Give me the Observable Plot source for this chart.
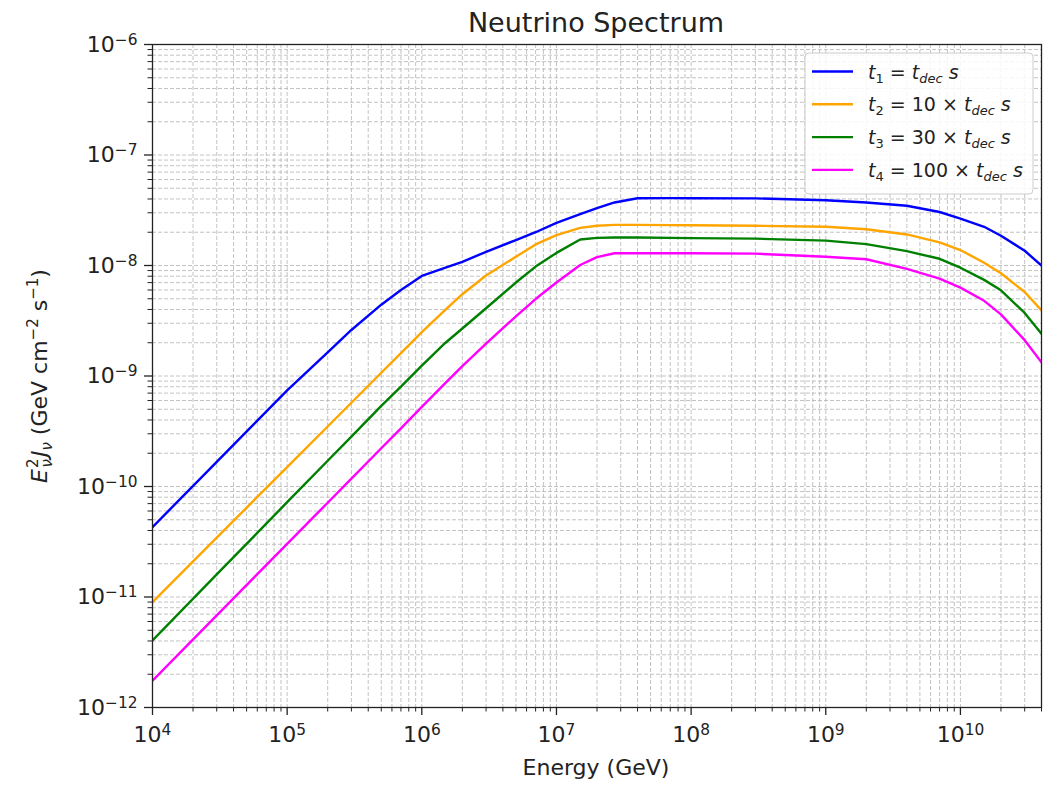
<!DOCTYPE html>
<html><head><meta charset="utf-8">
<script src="https://cdn.jsdelivr.net/npm/d3@7"></script>
<script src="https://cdn.jsdelivr.net/npm/@observablehq/plot@0.6"></script>
<style>body{margin:0;background:#fff;} svg{display:block}</style>
</head><body><div id="chart"></div>
<script>
// ---- data ----
const energy = [1e4, 3e4, 1e5, 2e5, 3e5, 5e5, 7e5, 1e6, 1.5e6, 2e6, 3e6, 5e6, 7e6, 1e7, 1.5e7, 2e7, 2.7e7, 4e7, 7e7, 1e8, 3e8, 1e9, 2e9, 4e9, 7e9, 1e10, 1.5e10, 2e10, 3e10, 4e10];
const fluxT1 = [4.29e-11, 1.67e-10, 7.41e-10, 1.64e-9, 2.61e-9, 4.42e-9, 6.01e-9, 8.04e-9, 9.55e-9, 1.08e-8, 1.33e-8, 1.70e-8, 2.00e-8, 2.43e-8, 2.92e-8, 3.31e-8, 3.72e-8, 4.06e-8, 4.07e-8, 4.06e-8, 4.05e-8, 3.89e-8, 3.72e-8, 3.47e-8, 3.05e-8, 2.66e-8, 2.24e-8, 1.86e-8, 1.36e-8, 1.00e-8];
const fluxT2 = [8.97e-12, 3.44e-11, 1.50e-10, 3.49e-10, 5.73e-10, 1.07e-9, 1.61e-9, 2.49e-9, 3.98e-9, 5.50e-9, 8.13e-9, 1.20e-8, 1.55e-8, 1.88e-8, 2.19e-8, 2.29e-8, 2.33e-8, 2.33e-8, 2.32e-8, 2.31e-8, 2.29e-8, 2.24e-8, 2.13e-8, 1.91e-8, 1.62e-8, 1.38e-8, 1.06e-8, 8.51e-9, 5.75e-9, 3.92e-9];
const fluxT3 = [4.04e-12, 1.60e-11, 7.21e-11, 1.71e-10, 2.83e-10, 5.37e-10, 8.00e-10, 1.24e-9, 2.00e-9, 2.69e-9, 4.10e-9, 7.01e-9, 9.77e-9, 1.30e-8, 1.72e-8, 1.78e-8, 1.79e-8, 1.79e-8, 1.78e-8, 1.77e-8, 1.75e-8, 1.68e-8, 1.56e-8, 1.35e-8, 1.15e-8, 9.55e-9, 7.41e-9, 5.96e-9, 3.72e-9, 2.41e-9];
const fluxT4 = [1.75e-12, 6.82e-12, 3.03e-11, 7.13e-11, 1.18e-10, 2.22e-10, 3.36e-10, 5.25e-10, 8.65e-10, 1.23e-9, 1.96e-9, 3.47e-9, 4.97e-9, 7.01e-9, 1.01e-8, 1.19e-8, 1.29e-8, 1.29e-8, 1.29e-8, 1.29e-8, 1.28e-8, 1.20e-8, 1.14e-8, 9.31e-9, 7.62e-9, 6.31e-9, 4.79e-9, 3.61e-9, 2.11e-9, 1.33e-9];
const seriesKeys = ["t1", "t2", "t3", "t4"];
const seriesColors = ["blue", "orange", "green", "magenta"];
const legendIndex = ["1", "2", "3", "4"];
const legendFactor = ["", "10 \u00d7 ", "30 \u00d7 ", "100 \u00d7 "];
const xTicks = [1e4, 1e5, 1e6, 1e7, 1e8, 1e9, 1e10];
const yTicks = [1e-12, 1e-11, 1e-10, 1e-9, 1e-8, 1e-7, 1e-6];
const titleText = "Neutrino Spectrum";
const xLabel = "Energy (GeV)";

// ---- build ----
const fluxes = [fluxT1, fluxT2, fluxT3, fluxT4];
const rows = [];
seriesKeys.forEach((s, si) => energy.forEach((e, i) => rows.push({series: s, E: e, F: fluxes[si][i]})));

function minors(majors, max) {
  const out = [];
  majors.forEach(m => { for (let k = 2; k <= 9; k++) { const v = m * k; if (v <= max * 1.0001) out.push(v); } });
  return out;
}
const xMinor = minors(xTicks, 4e10);
const yMinor = minors(yTicks.slice(0, -1), 1e-6);
const xAll = xTicks.concat(xMinor);
const yAll = yTicks.concat(yMinor);
const fmt = d => "10^" + Math.round(Math.log10(d));
const gridStyle = {stroke: "#b8b8b8", strokeOpacity: 0.85, strokeWidth: 1, strokeDasharray: "4,2"};
const ink = "#222";

const plot = Plot.plot({
  width: 1043, height: 786,
  marginLeft: 152, marginRight: 2, marginTop: 44, marginBottom: 79,
  style: {fontFamily: "DejaVu Sans", fontSize: "22px", color: ink, background: "#fff"},
  x: {type: "log", domain: [1e4, 4e10]},
  y: {type: "log", domain: [1e-12, 1e-6]},
  color: {domain: seriesKeys, range: seriesColors},
  marks: [
    Plot.gridX(xAll, gridStyle),
    Plot.gridY(yAll, gridStyle),
    Plot.line(rows, {x: "E", y: "F", z: "series", stroke: "series", strokeWidth: 2.4, clip: true}),
    Plot.frame({stroke: ink, strokeWidth: 1.3}),
    Plot.axisX(xTicks, {tickSize: 8, tickPadding: 11, tickFormat: fmt, label: null, stroke: ink, strokeWidth: 1.3, fontSize: 22}),
    Plot.axisX(xMinor, {tickSize: 4.5, tickFormat: () => "", label: null, stroke: ink, strokeWidth: 1}),
    Plot.axisY(yTicks, {tickSize: 8, tickPadding: 7, tickFormat: fmt, label: null, stroke: ink, strokeWidth: 1.3, fontSize: 22}),
    Plot.axisY(yMinor, {tickSize: 4.5, tickFormat: () => "", label: null, stroke: ink, strokeWidth: 1})
  ]
});
document.getElementById("chart").appendChild(plot);

const svg = d3.select(plot);
// superscript exponents on tick labels
svg.selectAll("text").each(function () {
  const m = /^10\^(-?\d+)$/.exec(this.textContent);
  if (m) {
    const el = d3.select(this);
    el.text("10");
    el.append("tspan").attr("dy", "-0.45em").attr("font-size", "0.7em").text(m[1].replace("-", "\u2212"));
  }
});

const font = "DejaVu Sans";
// title
svg.append("text").attr("x", 596).attr("y", 32).attr("text-anchor", "middle")
  .attr("font-family", font).attr("font-size", 27).attr("fill", ink).text(titleText);
// x label
svg.append("text").attr("x", 596).attr("y", 775).attr("text-anchor", "middle")
  .attr("font-family", font).attr("font-size", 22).attr("fill", ink).text(xLabel);
// y label
const yl = svg.append("text").attr("transform", "translate(47,376) rotate(-90)")
  .attr("text-anchor", "middle").attr("font-family", font).attr("font-size", 22).attr("fill", ink);
yl.append("tspan").attr("font-style", "italic").text("E");
yl.append("tspan").attr("font-size", 15).attr("dy", -9).attr("dx", 1).text("2");
yl.append("tspan").attr("font-size", 15).attr("font-style", "italic").attr("dx", -9).attr("dy", 14).text("\u03bd");
yl.append("tspan").attr("font-style", "italic").attr("dx", 2).attr("dy", -5).text("J");
yl.append("tspan").attr("font-size", 15).attr("font-style", "italic").attr("dy", 5).text("\u03bd");
yl.append("tspan").attr("dy", -5).text(" (GeV cm");
yl.append("tspan").attr("font-size", 15).attr("dy", -9).text("\u22122");
yl.append("tspan").attr("dy", 9).text(" s");
yl.append("tspan").attr("font-size", 15).attr("dy", -9).text("\u22121");
yl.append("tspan").attr("dy", 9).text(")");

// legend
const lg = svg.append("g");
lg.append("rect").attr("x", 805).attr("y", 53).attr("width", 228).attr("height", 141).attr("rx", 4)
  .attr("fill", "#fff").attr("fill-opacity", 0.85).attr("stroke", "#cccccc").attr("stroke-width", 1);
seriesKeys.forEach((k, i) => {
  const y = 71.5 + i * 32.8;
  lg.append("line").attr("x1", 812).attr("x2", 853).attr("y1", y).attr("y2", y)
    .attr("stroke", seriesColors[i]).attr("stroke-width", 2.4);
  const t = lg.append("text").attr("x", 868).attr("y", y + 7).attr("text-anchor", "start")
    .attr("font-family", font).attr("font-size", 19).attr("fill", ink);
  t.append("tspan").attr("font-style", "italic").text("t");
  t.append("tspan").attr("font-size", 13).attr("dy", 4).text(legendIndex[i]);
  t.append("tspan").attr("dy", -4).text(" = " + legendFactor[i]);
  t.append("tspan").attr("font-style", "italic").text("t");
  t.append("tspan").attr("font-size", 13).attr("font-style", "italic").attr("dy", 4).text("dec");
  t.append("tspan").attr("font-style", "italic").attr("dy", -4).text(" s");
});
</script></body></html>
